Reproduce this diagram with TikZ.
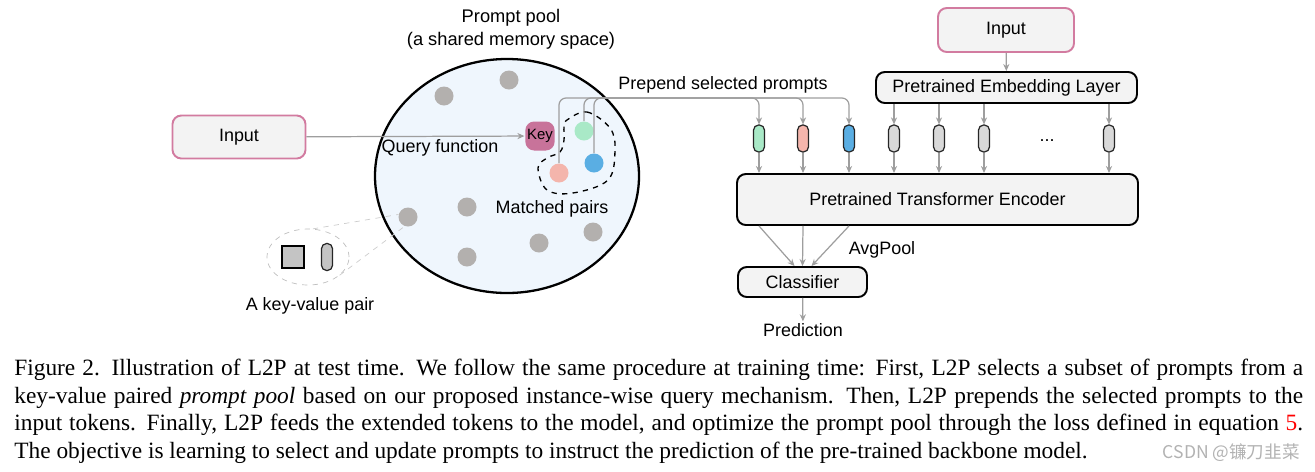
\documentclass[tikz,border=0pt]{standalone}
\usepackage{fontspec}
\setmainfont{Liberation Serif}
\setsansfont{Liberation Sans}
\newfontfamily\cjkfont{Noto Sans CJK SC}
\usetikzlibrary{calc,positioning,arrows.meta,shapes.geometric}

\definecolor{poolblue}{HTML}{EFF6FD}
\definecolor{dotgray}{HTML}{B3B0AE}
\definecolor{keypink}{HTML}{C8739A}
\definecolor{inpink}{HTML}{D27BA0}
\definecolor{boxfill}{HTML}{F3F3F3}
\definecolor{pgreen}{HTML}{A9E9C7}
\definecolor{pred}{HTML}{F4B5AC}
\definecolor{pblue}{HTML}{5AAEE3}
\definecolor{tokgray}{HTML}{D9D9D9}
\definecolor{kvgray}{HTML}{C4C4C4}
\definecolor{linegray}{HTML}{9E9E9E}

\newcommand{\pxu}{0.02cm}

\tikzset{
    lbl/.style={font=\sffamily\fontsize{10.2}{12}\selectfont, inner sep=1pt},
    block/.style={draw=black, line width=1.1pt, rounded corners=5pt, fill=boxfill, lbl},
    inblock/.style={block, draw=inpink},
    pooldot/.style={circle, fill=dotgray, minimum size=19*\pxu, inner sep=0pt},
    token/.style={draw=black!85, line width=0.7pt, rounded corners=2.9pt, minimum width=11*\pxu, minimum height=27*\pxu, inner sep=0pt},
    flow/.style={draw=linegray, line width=0.7pt, -{Stealth[length=4pt,width=3.5pt]}},
    caption/.style={anchor=base west, font=\fontsize{13.3}{16}\selectfont, inner sep=0pt},
}

\begin{document}
\begin{tikzpicture}[x=\pxu,y=-\pxu]
    \useasboundingbox (0,0) rectangle (1315,471);

    % prompt pool
    \node[lbl, align=center, font=\sffamily\fontsize{10.4}{13}\selectfont] (title) at (511,29) {Prompt pool\\(a shared memory space)};
    \node[ellipse, draw, line width=1.3pt, fill=poolblue, minimum width=264*\pxu, minimum height=234*\pxu, inner sep=0pt] (pool) at (507,176) {};
    \draw[dashed, line width=0.75pt] plot[smooth cycle, tension=0.6] coordinates {(567,120) (587,112) (610,128) (615,150) (608,180) (573,193) (547,190) (538,168) (547,158) (560,152) (564,140) (564,127)};
    \foreach \x/\y [count=\i] in {509/80,444/96,408/217,467/207,467/257,539/243,593/232}
        \node[pooldot] (d\i) at (\x,\y) {};
    \node[pooldot, fill=pgreen] (mg) at (584,131) {};
    \node[pooldot, fill=pblue] (mb) at (594,163) {};
    \node[pooldot, fill=pred] (mr) at (559,173) {};
    \node[block, draw=none, fill=keypink, minimum width=29*\pxu, minimum height=29*\pxu, font=\sffamily\fontsize{8.5}{10}\selectfont] (key) at (540,136) {Key};
    \node[lbl] (qf) at (440,148) {Query function};
    \node[lbl] (mp) at (552,209) {Matched pairs};

    % query input
    \node[inblock, minimum width=133*\pxu, minimum height=43*\pxu] (inl) at (239,137) {Input};
    \draw[flow] (inl) -- (key);

    % key-value pair
    \node[ellipse, draw=gray!50, dashed, minimum width=82*\pxu, minimum height=56*\pxu] (kv) at (308,257) {};
    \node[draw, line width=0.8pt, fill=kvgray, minimum size=22*\pxu, inner sep=0pt] (kvk) at (293,257) {};
    \node[token, fill=kvgray] (kvv) at (327,257) {};
    \draw[gray!40, dashed] (kv.80) -- (d3.165);
    \draw[gray!40, dashed] (kv.-30) -- (d3.250);
    \node[lbl] (kvl) at (310,306) {A key-value pair};

    % backbone
    \node[inblock, minimum width=136*\pxu, minimum height=44*\pxu] (inr) at (1006,30) {Input};
    \node[block, minimum width=261*\pxu, minimum height=31*\pxu] (emb) at (1006.5,87.5) {Pretrained Embedding Layer};
    \node[block, minimum width=401*\pxu, minimum height=51*\pxu] (enc) at (937.5,199.5) {Pretrained Transformer Encoder};
    \node[block, minimum width=129*\pxu, minimum height=30*\pxu] (cls) at (802.5,282) {Classifier};
    \node[lbl] (pred) at (803,330) {Prediction};
    \node[lbl] (avg) at (882,250) {AvgPool};
    \draw[flow] (inr) -- (emb);

    % tokens
    \node[token, fill=pgreen] (t1) at (759,138.5) {};
    \node[token, fill=pred] (t2) at (803,138.5) {};
    \node[token, fill=pblue] (t3) at (849,138.5) {};
    \foreach \n/\x in {4/894,5/939,6/984,8/1109}
        \node[token, fill=tokgray] (t\n) at (\x,138.5) {};
    \node[lbl] (dots) at (1047,141) {...};

    % prepend selected prompts
    \node[lbl] (pre) at (723,85) {Prepend selected prompts};
    \coordinate (rail) at (0,98);
    \foreach \m/\t in {mr/t1,mg/t2,mb/t3}
        \draw[flow, rounded corners=4pt] (\m.north) -- (\m.north |- rail) -- (\t.north |- rail) -- (\t.north);

    \foreach \t in {t4,t5,t6,t8}
        \draw[flow] (emb.south -| \t.north) -- (\t.north);
    \foreach \t in {t1,t2,t3,t4,t5,t6,t8}
        \draw[flow] (\t.south) -- (\t.south |- enc.north);

    % avgpool
    \draw[flow] (enc.south -| t1) -- ($(cls.north)+(-8,0)$);
    \draw[flow] (enc.south -| t2) -- (cls.north);
    \draw[flow] (enc.south -| t3) -- ($(cls.north)+(9,0)$);
    \draw[flow] (cls) -- (pred);

    % caption
    \node[caption] (cap1) at (14,375) {\makebox[25.78cm][s]{Figure 2. Illustration of L2P at test time. We follow the same procedure at training time: First, L2P selects a subset of prompts from a}};
    \node[caption] (cap2) at (14,403) {\makebox[25.78cm][s]{key-value paired \textit{prompt pool} based on our proposed instance-wise query mechanism. Then, L2P prepends the selected prompts to the}};
    \node[caption] (cap3) at (14,430) {\makebox[25.78cm][s]{input tokens. Finally, L2P feeds the extended tokens to the model, and optimize the prompt pool through the loss defined in equation \textcolor{red}{5}.}};
    \node[caption] (cap4) at (14,458) {The objective is learning to select and update prompts to instruct the prediction of the pre-trained backbone model.};
    \node[anchor=base east, inner sep=0pt, text=gray!60, font=\cjkfont\fontsize{10}{12}\selectfont] (wm) at (1300,458) {CSDN @镰刀韭菜};
\end{tikzpicture}
\end{document}
